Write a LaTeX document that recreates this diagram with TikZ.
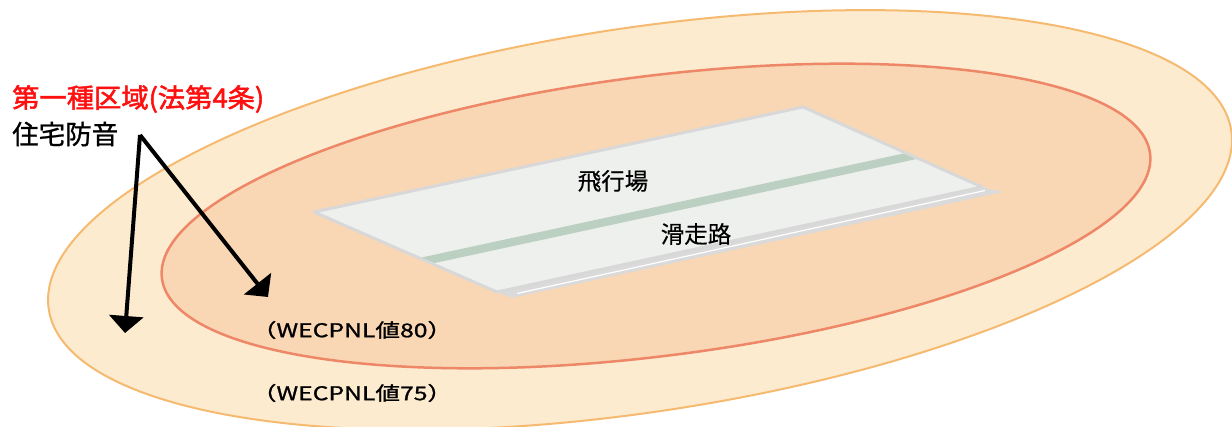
\documentclass[tikz,border=0pt]{standalone}
\usepackage{fontspec}
\setmainfont{Noto Sans CJK JP}
\newfontfamily\jpbold[FakeBold=2]{Noto Sans CJK JP}
\newfontfamily\jpmed[FakeBold=1]{Noto Sans CJK JP}
\newfontfamily\jplight[FakeBold=0.4]{Noto Sans CJK JP}
\usetikzlibrary{arrows.meta,calc}
\definecolor{outerfill}{HTML}{FDEBD0}
\definecolor{outerline}{HTML}{F5BA70}
\definecolor{innerfill}{HTML}{F9D7B4}
\definecolor{innerline}{HTML}{EE8767}
\definecolor{slabfill}{HTML}{EEF0EE}
\definecolor{slabline}{HTML}{D8D8D8}
\definecolor{shadowc}{HTML}{DADADA}
\definecolor{stripc}{HTML}{BCD0C2}
\definecolor{zonered}{HTML}{FF1010}
\tikzset{
  zonelbl/.style={inner sep=0pt, text=zonered, xscale=1.03, font=\jpbold\fontsize{26.5pt}{26.5pt}\selectfont},
  lbl/.style={inner sep=0pt, font=\jpmed\fontsize{26.5pt}{26.5pt}\selectfont},
  runlbl/.style={inner sep=0pt, font=\jplight\fontsize{23.5pt}{23.5pt}\selectfont},
  wlbl/.style={inner sep=0pt, font=\jpmed\fontsize{19pt}{19pt}\selectfont, xscale=1.3},
  pointer/.style={line width=4pt, -{Triangle[length=17pt,width=34pt]}}
}
\begin{document}
\begin{tikzpicture}[x=1pt,y=-1pt]
\useasboundingbox (0,0) rectangle (1232,427);
\begin{scope}
\clip (0,0) rectangle (1232,427);
\draw[outerline, line width=2pt, fill=outerfill, rotate around={8.6:(640,220)}] (640,220) ellipse [x radius=598, y radius=192];
\draw[innerline, line width=2.5pt, fill=innerfill, rotate around={7.2:(656,216)}] (656,216) ellipse [x radius=498, y radius=140];
\end{scope}
% airfield slab
\coordinate (A) at (314,212);
\coordinate (B) at (803,107);
\coordinate (C) at (982,187);
\coordinate (D) at (497,292);
\fill[shadowc, rounded corners=2pt] (C) -- (1003,192) -- (511,298) -- (D) -- cycle;
\draw[white, line width=1.2pt] (517,293.5) -- (985,190.5);
\fill[slabfill] (A) -- (B) -- (C) -- (D) -- cycle;
\fill[stripc] ($(A)!0.575!(D)$) -- ($(B)!0.575!(C)$) -- ($(B)!0.645!(C)$) -- ($(A)!0.645!(D)$) -- cycle;
\draw[slabline, line width=3pt, line join=round] (A) -- (B) -- (C) -- (D) -- cycle;
% labels
\node[zonelbl, anchor=west] (zone) at (12,99) {第一種区域(法第4条)};
\node[lbl, anchor=west] (soundproof) at (12,134) {住宅防音};
\node[runlbl] (airfield) at (613,181) {飛行場};
\node[runlbl] (runway) at (696,234) {滑走路};
\node[wlbl] (w80) at (352,330) {（WECPNL値80）};
\node[wlbl] (w75) at (352,393) {（WECPNL値75）};
% pointers
\coordinate (src) at (140,135);
\coordinate (tipA) at (125,333);
\coordinate (tipB) at (268,297);
\draw[pointer] (src) -- (tipA);
\draw[pointer] (src) -- (tipB);
\end{tikzpicture}
\end{document}
